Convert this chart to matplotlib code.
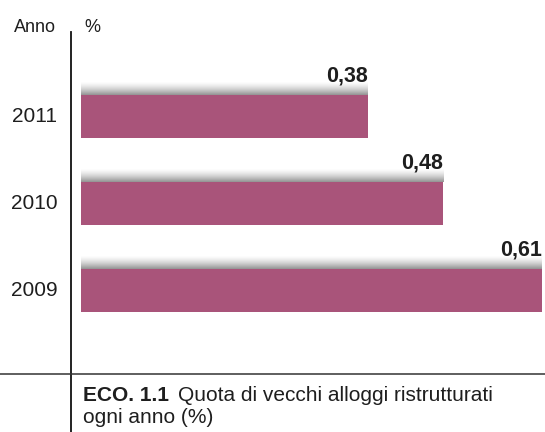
import numpy as np
import matplotlib
matplotlib.use("Agg")
import matplotlib.pyplot as plt
from matplotlib.lines import Line2D

# quota di vecchi alloggi ristrutturati, dal più recente
anni = ["2011", "2010", "2009"]
quote = [0.38, 0.48, 0.61]
etichette = ["0,38", "0,48", "0,61"]

colore_barra = "#a9547a"
colore_testo = "#1e1e1e"

plt.rcParams['font.family'] = ['Liberation Sans', 'DejaVu Sans']

fig = plt.figure(figsize=(5.45, 4.32), dpi=100)
ax = fig.add_axes([0, 0, 1, 1])
ax.set_xlim(-0.1073, 0.6146)
ax.set_ylim(3.626, -1.339)
ax.axis("off")

pos = np.arange(len(anni))
alt = 0.49

# ombra sfumata sopra ogni barra
grad = np.zeros((20, 1, 4))
grad[..., :3] = 0.42
grad[:, 0, 3] = np.linspace(0.0, 0.8, 20) ** 1.5
for p, q in zip(pos, quote):
    top = p - alt / 2
    ax.imshow(grad, extent=[0, q, top, top - 0.15], aspect="auto",
              interpolation="bilinear", zorder=1)

ax.barh(pos, quote, height=alt, color=colore_barra, zorder=2)

for p, q, t in zip(pos, quote, etichette):
    ax.text(q, p - alt / 2 - 0.1, t, ha="right", va="bottom",
            fontsize=15.5, fontweight="bold", color=colore_testo)
    ax.text(-0.0617, p, anni[p], ha="center", va="center",
            fontsize=15, color=colore_testo)

# assi disegnati a mano
fig.add_artist(Line2D([71 / 545, 71 / 545], [0, 1 - 32 / 432],
                      color="#111111", lw=1.3))
fig.add_artist(Line2D([0, 1], [1 - 374 / 432, 1 - 374 / 432],
                      color="#333333", lw=1.1))

fig.text(14 / 545, 1 - 27 / 432, "Anno", ha="left", va="center",
         fontsize=13, color=colore_testo)
fig.text(84 / 545, 1 - 27 / 432, "%", ha="left", va="center",
         fontsize=13, color=colore_testo)

# didascalia: parte in grassetto, poi il testo normale subito dopo
y1 = 1 - 401 / 432
y2 = 1 - 423 / 432
tit = fig.text(83 / 545, y1, "ECO. 1.1", ha="left", va="baseline",
               fontsize=15, fontweight="bold", color=colore_testo)
fig.canvas.draw()
bb = tit.get_window_extent()
x_dopo = (bb.x1 + 9) / fig.bbox.width
fig.text(x_dopo, y1, "Quota di vecchi alloggi ristrutturati",
         ha="left", va="baseline", fontsize=15, color=colore_testo)
fig.text(83 / 545, y2, "ogni anno (%)", ha="left", va="baseline",
         fontsize=15, color=colore_testo)

fig.savefig("out.png", dpi=100)
